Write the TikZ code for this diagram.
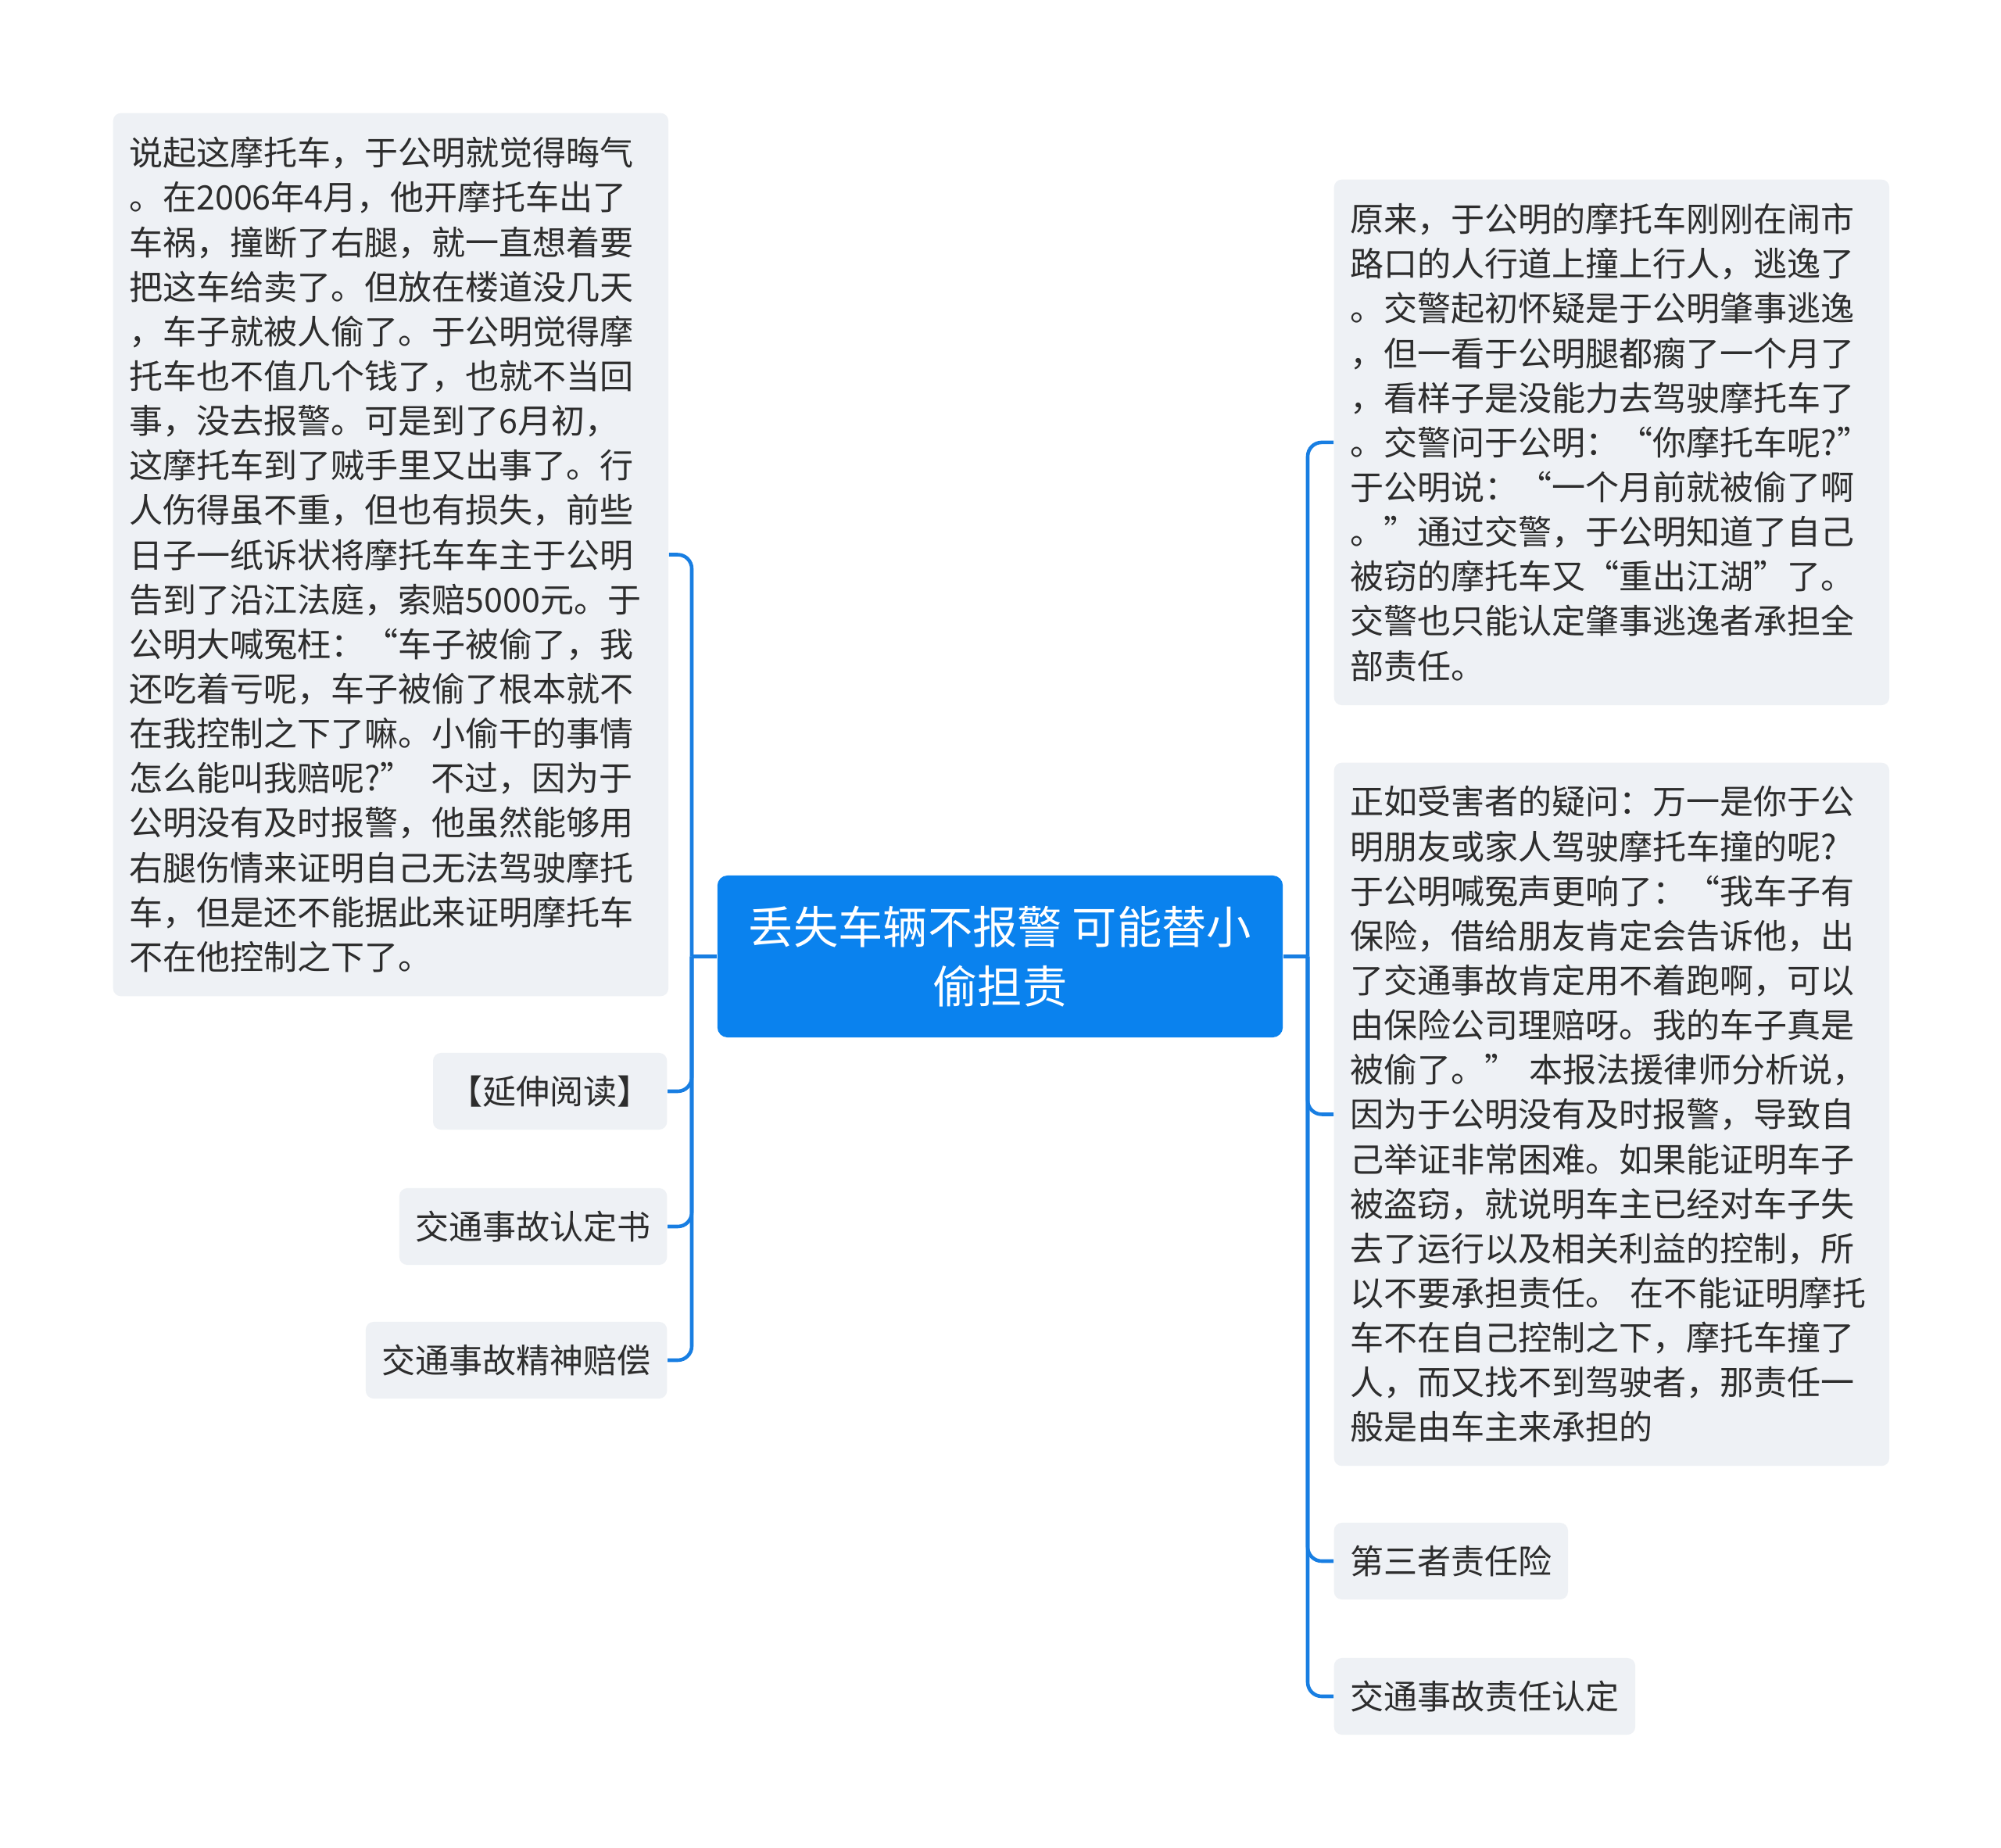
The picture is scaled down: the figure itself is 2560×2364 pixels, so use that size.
\documentclass[tikz,border=0pt]{standalone}
\usepackage{fontspec}
\setmainfont{Noto Sans CJK SC}
\definecolor{cblue}{RGB}{10,130,238}
\definecolor{linecol}{RGB}{24,126,226}
\definecolor{boxgray}{RGB}{238,241,245}
\definecolor{txtcol}{RGB}{45,45,45}
\begin{document}
\begin{tikzpicture}[x=0.01cm,y=-0.01cm,
  txtbox/.style={fill=boxgray, rounded corners=0.1cm, text=txtcol,
    font=\fontsize{12.24pt}{16.25pt}\selectfont, inner xsep=0.205cm, inner ysep=0pt},
  bigbox/.style={txtbox, text width=6.69cm, align=left, anchor=north west, minimum width=7.10cm},
  smallbox/.style={txtbox, minimum height=0.98cm},
  conn/.style={draw=linecol, line width=1.3pt, rounded corners=0.18cm},
  centerbox/.style={fill=cblue, text=white, rounded corners=0.13cm,
    font=\fontsize{16.3pt}{21.8pt}\selectfont, align=center,
    minimum width=7.23cm, minimum height=2.07cm, inner sep=0pt}]
\useasboundingbox[fill=white] (0,0) rectangle (2560,2364);

\node[centerbox] (c) at (1279.5,1223.5) {丢失车辆不报警 可能替小\\偷担责};

% left side
\node[bigbox, minimum height=11.29cm] (l1) at (144,144) {说起这摩托车，于公明就觉得晦气\\。在2006年4月，他开摩托车出了\\车祸，撞断了右腿，就一直想着要\\把这车给卖了。但放在楼道没几天\\，车子就被人偷了。于公明觉得摩\\托车也不值几个钱了，也就不当回\\事，没去报警。可是到了6月初，\\这摩托车到了贼手里又出事了。行\\人伤得虽不重，但也有损失，前些\\日子一纸诉状将摩托车车主于公明\\告到了沿江法庭，索赔5000元。于\\公明大喊冤枉：“车子被偷了，我\\还吃着亏呢，车子被偷了根本就不\\在我控制之下了嘛。小偷干的事情\\怎么能叫我赔呢?” 不过，因为于\\公明没有及时报警，他虽然能够用\\右腿伤情来证明自己无法驾驶摩托\\车，但是还不能据此来证明摩托车\\不在他控制之下了。};
\node[smallbox, anchor=east] (l2) at (854,1396) {【延伸阅读】};
\node[smallbox, anchor=east] (l3) at (854,1569) {交通事故认定书};
\node[smallbox, anchor=east] (l4) at (854,1740) {交通事故精神赔偿};

% right side
\node[bigbox, minimum height=6.72cm] (r1) at (1706,229) {原来，于公明的摩托车刚刚在闹市\\路口的人行道上撞上行人，逃逸了\\。交警起初怀疑是于公明肇事逃逸\\，但一看于公明腿都瘸了一个月了\\，看样子是没能力去驾驶摩托车了\\。交警问于公明：“你摩托车呢?”\\于公明说：“一个月前就被偷了啊\\。”通过交警，于公明知道了自己\\被窃的摩托车又“重出江湖”了。\\交警也只能认定肇事逃逸者承担全\\部责任。};
\node[bigbox, minimum height=8.99cm] (r2) at (1706,975) {正如受害者的疑问：万一是你于公\\明朋友或家人驾驶摩托车撞的呢?\\于公明喊冤声更响了：“我车子有\\保险，借给朋友肯定会告诉他，出\\了交通事故肯定用不着跑啊，可以\\由保险公司理赔呀。我的车子真是\\被偷了。” 本报法援律师分析说，\\因为于公明没有及时报警，导致自\\己举证非常困难。如果能证明车子\\被盗窃，就说明车主已经对车子失\\去了运行以及相关利益的控制，所\\以不要承担责任。 在不能证明摩托\\车不在自己控制之下，摩托车撞了\\人，而又找不到驾驶者，那责任一\\般是由车主来承担的};
\node[smallbox, anchor=west] (r3) at (1706,1997) {第三者责任险};
\node[smallbox, anchor=west] (r4) at (1706,2170) {交通事故责任认定};

% connectors
\coordinate (lt) at (885,1223.5);
\coordinate (rt) at (1673,1223.5);
\draw[conn] (c.west) -- (lt);
\draw[conn] (c.east) -- (rt);
\foreach \n in {l1,l2,l3,l4} \draw[conn] (lt) |- (\n.east);
\foreach \n in {r1,r2,r3,r4} \draw[conn] (rt) |- (\n.west);
\end{tikzpicture}
\end{document}
